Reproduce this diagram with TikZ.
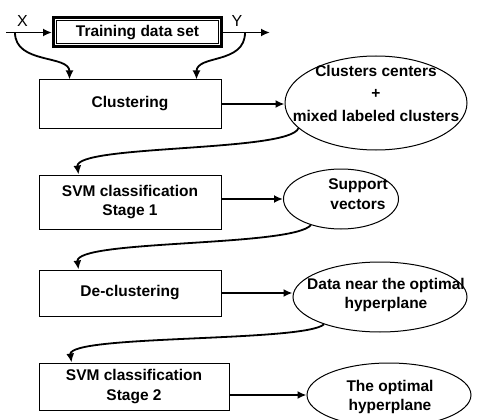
\documentclass[tikz,border=0pt]{standalone}
\usepackage{fontspec}
\setmainfont{Liberation Sans}
\usetikzlibrary{shapes.geometric,arrows.meta}
\begin{document}
\begin{tikzpicture}[x=1pt,y=-1pt,
  every node/.style={font=\bfseries\fontsize{15.5}{19.5}\selectfont},
  box/.style={draw,line width=1pt,inner sep=0pt,align=center},
  oval/.style={draw,ellipse,line width=1pt,inner sep=0pt},
  ovaltext/.style={align=center,inner sep=0pt},
  iolabel/.style={font=\fontsize{16}{18}\selectfont,inner sep=0pt},
  link/.style={line width=1.8pt,-{Latex[length=9pt,width=8pt]}}]
\useasboundingbox (0,0) rectangle (485,420);

% training set with its double frame
\node[box,line width=3pt,minimum width=168pt,minimum height=29pt] (train) at (137.5,32.5) {Training data set};
\draw[line width=1pt] ([shift={(4.5pt,-4.5pt)}]train.north west) rectangle ([shift={(-4.5pt,4.5pt)}]train.south east);

% processing steps
\node[box,minimum width=182pt,minimum height=48pt] (clus) at (130,104) {Clustering};
\node[box,minimum width=182pt,minimum height=54pt] (svm1) at (130,202) {SVM classification\\Stage 1};
\node[box,minimum width=182pt,minimum height=46pt] (declus) at (130,293) {De-clustering};
\node[box,minimum width=190pt,minimum height=47pt] (svm2) at (134,386.5) {SVM classification\\Stage 2};

% intermediate results
\node[oval,minimum width=182pt,minimum height=94pt] (e1) at (376,103) {};
\node[ovaltext,font=\bfseries\fontsize{15.5}{22.5}\selectfont] (e1t) at (376,93) {Clusters centers\\+\\mixed labeled clusters};
\node[oval,minimum width=115pt,minimum height=60pt] (e2) at (341,199) {};
\node[ovaltext] (e2t) at (358,194) {Support\\vectors};
\node[oval,minimum width=174pt,minimum height=70pt] (e3) at (380,297) {};
\node[ovaltext] (e3t) at (386,295) {Data near the optimal\\hyperplane};
\node[oval,minimum width=164pt,minimum height=64pt] (e4) at (389,395) {};
\node[ovaltext] (e4t) at (390,397) {The optimal\\hyperplane};

% input / output
\node[iolabel] (xlab) at (22.5,20.5) {X};
\node[iolabel] (ylab) at (237,20.5) {Y};
\coordinate (xin) at (6,32.5);
\coordinate (yout) at (270,32.5);
\coordinate (xsplit) at (15,32.5);
\coordinate (ysplit) at (245,32.5);

\draw[link] (xin) -- (train.west);
\draw[link] (train.east) -- (yout);
\draw[link] (xsplit) .. controls +(0,32) and +(0,-25) .. ([xshift=31pt]clus.north west);
\draw[link] (ysplit) .. controls +(0,32) and +(0,-25) .. ([xshift=158pt]clus.north west);

% flow between steps and results
\draw[link] (clus.east) -- (clus.east -| e1.west);
\draw[link] (e1.198) .. controls +(-9,24) and +(-4,-30) .. ([xshift=40pt]svm1.north west);
\draw[link] (svm1.east |- e2.west) -- (e2.west);
\draw[link] (e2.221) .. controls +(-20,22) and +(-4,-30) .. ([xshift=40pt]declus.north west);
\draw[link] (declus.east) -- (declus.east -| e3.west);
\draw[link] (e3.206) .. controls +(-20,18) and +(-4,-28) .. ([xshift=33pt]svm2.north west);
\draw[link] ([yshift=-8.5pt]svm2.east) -- (e4.west);
\end{tikzpicture}
\end{document}
